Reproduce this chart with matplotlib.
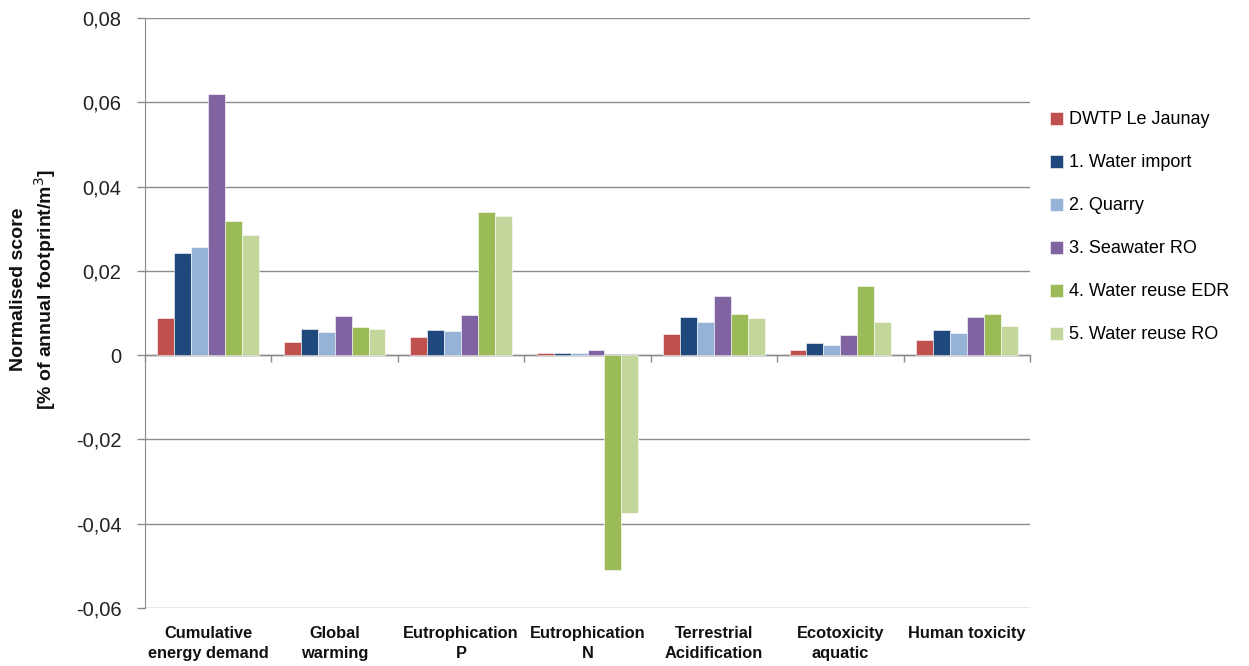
import numpy as np
import matplotlib.pyplot as plt
from matplotlib.ticker import FuncFormatter, FixedLocator

# categories and series (normalised score, % of annual footprint / m3)
categories = ['Cumulative\nenergy demand', 'Global\nwarming', 'Eutrophication\nP',
              'Eutrophication\nN', 'Terrestrial\nAcidification', 'Ecotoxicity\naquatic',
              'Human toxicity']
series_names = ['DWTP Le Jaunay', '1. Water import', '2. Quarry', '3. Seawater RO',
                '4. Water reuse EDR', '5. Water reuse RO']
dwtp = [0.0089, 0.0032, 0.0044, 0.0004, 0.0051, 0.0013, 0.0037]
water_import = [0.0243, 0.0062, 0.0060, 0.0006, 0.0091, 0.0029, 0.0059]
quarry = [0.0256, 0.0056, 0.0058, 0.0005, 0.0078, 0.0025, 0.0053]
seawater_ro = [0.0620, 0.0094, 0.0096, 0.0013, 0.0140, 0.0047, 0.0091]
reuse_edr = [0.0319, 0.0067, 0.0340, -0.0509, 0.0097, 0.0165, 0.0097]
reuse_ro = [0.0286, 0.0062, 0.0329, -0.0375, 0.0089, 0.0078, 0.0070]
y_ticks = [-0.06, -0.04, -0.02, 0, 0.02, 0.04, 0.06, 0.08]

colors = ['#C0504D', '#1F497D', '#95B3D7', '#8064A2', '#9BBB59', '#C3D69B']
all_series = [dwtp, water_import, quarry, seawater_ro, reuse_edr, reuse_ro]

plt.rcParams['font.family'] = ['Liberation Sans', 'DejaVu Sans']

fig = plt.figure(figsize=(12.49, 6.66), dpi=100)
ax = fig.add_axes([145/1249, 58/666, 885/1249, 590/666])

x = np.arange(len(categories))
w = 0.134
for i, (vals, c, name) in enumerate(zip(all_series, colors, series_names)):
    ax.bar(x + (i - 2.5) * w, vals, width=w, color=c, edgecolor='white',
           linewidth=0.4, label=name, zorder=3)

ax.set_xlim(-0.5, len(categories) - 0.5)
ax.set_ylim(-0.06, 0.08)
ax.set_yticks(y_ticks)
ax.yaxis.set_major_formatter(FuncFormatter(
    lambda v, p: '0' if abs(v) < 1e-9 else f'{v:.2f}'.replace('.', ',')))
ax.grid(axis='y', color='#8c8c8c', linewidth=1.0, zorder=0)
ax.set_axisbelow(True)

for s in ['top', 'right', 'bottom']:
    ax.spines[s].set_visible(False)
ax.spines['left'].set_color('#8c8c8c')
ax.tick_params(axis='y', colors='#8c8c8c', length=6, width=1, labelsize=14.5,
               labelcolor='#222222', pad=11)

ax.set_xticks(x)
ax.set_xticklabels(categories, fontsize=11.8, fontweight='bold', linespacing=1.4)
ax.tick_params(axis='x', length=0, pad=13, labelcolor='#111111')

# category axis drawn on the zero line
zero_frac = 0.06 / 0.14
sec = ax.secondary_xaxis(zero_frac)
sec.xaxis.set_major_locator(FixedLocator(np.arange(-0.5, len(categories), 1.0)))
sec.tick_params(axis='x', length=5, width=1, color='#8c8c8c', labelbottom=False,
                direction='out')
sec.spines['bottom'].set_color('#8c8c8c')
sec.spines['bottom'].set_linewidth(1.0)

ax.set_ylabel('Normalised score\n[% of annual footprint/m$^3$]', fontsize=14,
              fontweight='bold', color='#111111', linespacing=1.25)
ax.yaxis.set_label_coords(-0.098, 0.54)

ax.legend(loc='center left', bbox_to_anchor=(1.004, 0.645), frameon=False,
          fontsize=13, handlelength=0.75, handleheight=0.75, handletextpad=0.3,
          labelspacing=1.44)

fig.savefig('out.png', dpi=100)
